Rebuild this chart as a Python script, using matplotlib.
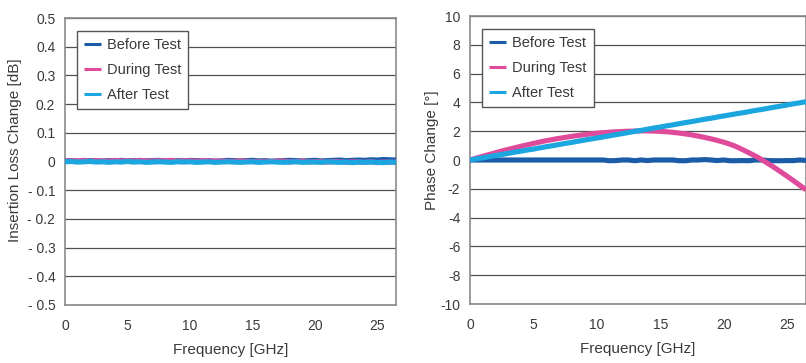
import numpy as np
import matplotlib
matplotlib.use('Agg')
import matplotlib.pyplot as plt

plt.rcParams['font.family'] = ['Liberation Sans', 'DejaVu Sans']

F_MAX = 26.5

# Insertion loss change [dB], sampled every 0.5 GHz from 0 to 26.5 GHz
il_before = [0.002, 0.003, 0.001, 0.002, 0.003, 0.002, 0.001, 0.003, 0.002, 0.004,
             0.002, 0.003, 0.001, 0.002, 0.003, 0.004, 0.002, 0.001, 0.003, 0.002,
             0.004, 0.003, 0.002, 0.003, 0.001, 0.002, 0.004, 0.003, 0.002, 0.003,
             0.004, 0.002, 0.003, 0.001, 0.002, 0.003, 0.004, 0.003, 0.002, 0.003,
             0.004, 0.002, 0.003, 0.004, 0.005, 0.003, 0.004, 0.005, 0.004, 0.006,
             0.005, 0.007, 0.006, 0.005]
il_during = [0.001, 0.003, 0.002, 0.004, 0.001, 0.003, 0.002, 0.001, 0.004, 0.002,
             0.003, 0.001, 0.004, 0.002, 0.001, 0.003, 0.002, 0.004, 0.001, 0.002,
             0.003, 0.001, 0.002, 0.003, 0.001, 0.002, 0.001, 0.000, 0.002, 0.001,
             0.000, -0.001, 0.001, 0.000, 0.002, 0.001, -0.001, 0.000, 0.001, -0.002,
             0.000, -0.001, -0.002, 0.000, -0.001, -0.003, -0.001, -0.002, -0.003, -0.001,
             -0.004, -0.002, -0.003, -0.002]
il_after = [-0.001, 0.000, -0.002, -0.001, 0.000, -0.002, -0.001, -0.003, -0.001, -0.002,
            0.000, -0.002, -0.001, -0.003, -0.002, -0.001, -0.002, -0.003, -0.001, -0.002,
            -0.001, -0.003, -0.002, -0.001, -0.003, -0.002, -0.001, -0.002, -0.003, -0.002,
            -0.001, -0.003, -0.002, -0.001, -0.002, -0.003, -0.002, -0.001, -0.003, -0.002,
            -0.002, -0.003, -0.001, -0.002, -0.003, -0.002, -0.004, -0.002, -0.003, -0.002,
            -0.003, -0.004, -0.002, -0.003]

# Phase change [deg], sampled every 0.5 GHz from 0 to 26.5 GHz
ph_before = [0.0] * 22 + [-0.05, -0.04, 0.0, 0.0, -0.05, 0.0, -0.04, 0.0, 0.0, 0.0,
                          0.0, -0.05, -0.05, 0.0, 0.0, 0.03, 0.0, -0.04, 0.0, -0.05,
                          -0.05, -0.04, -0.05, 0.0, 0.0, -0.04, -0.05, -0.05, -0.04, -0.04,
                          0.0, -0.03]
ph_during = [0.0, 0.13, 0.26, 0.38, 0.5, 0.62, 0.73, 0.84, 0.95, 1.05,
             1.15, 1.25, 1.34, 1.42, 1.5, 1.57, 1.64, 1.7, 1.76, 1.81,
             1.86, 1.9, 1.93, 1.96, 1.98, 2.0, 2.01, 2.02, 2.02, 2.01,
             1.99, 1.96, 1.92, 1.87, 1.81, 1.74, 1.66, 1.57, 1.47, 1.36,
             1.24, 1.1, 0.93, 0.72, 0.5, 0.28, 0.03, -0.24, -0.52, -0.82,
             -1.12, -1.43, -1.75, -2.07]
ph_after = [0.0, 0.08, 0.15, 0.23, 0.31, 0.38, 0.46, 0.54, 0.61, 0.69,
            0.76, 0.84, 0.92, 0.99, 1.07, 1.15, 1.22, 1.30, 1.38, 1.45,
            1.53, 1.60, 1.68, 1.76, 1.83, 1.91, 1.99, 2.06, 2.14, 2.22,
            2.29, 2.37, 2.44, 2.52, 2.60, 2.67, 2.75, 2.83, 2.90, 2.98,
            3.06, 3.13, 3.21, 3.28, 3.36, 3.44, 3.51, 3.59, 3.67, 3.74,
            3.82, 3.90, 3.97, 4.05]

x_ticks = [0, 5, 10, 15, 20, 25]
il_ticks = [0.5, 0.4, 0.3, 0.2, 0.1, 0, -0.1, -0.2, -0.3, -0.4, -0.5]
il_labels = ['0.5', '0.4', '0.3', '0.2', '0.1', '0', '- 0.1', '- 0.2', '- 0.3', '- 0.4', '- 0.5']
ph_ticks = [10, 8, 6, 4, 2, 0, -2, -4, -6, -8, -10]

SERIES = [("Before Test", "#1b5ca8"), ("During Test", "#e04a9b"), ("After Test", "#1ba6e0")]
TEXT = '#3a3a3a'


def freq(vals):
    return np.linspace(0, F_MAX, len(vals))


fig = plt.figure(figsize=(8.06, 3.63), dpi=100)
W, H = 806, 363
ax1 = fig.add_axes([65 / W, 1 - 305 / H, 331 / W, 287 / H])
ax2 = fig.add_axes([470 / W, 1 - 304 / H, 336 / W, 288 / H])

# (axes, series, y range, ticks, tick labels, y label, label x in px)
panels = [
    (ax1, [il_before, il_during, il_after], (-0.5, 0.5), il_ticks, il_labels,
     "Insertion Loss Change [dB]", 22),
    (ax2, [ph_before, ph_during, ph_after], (-10, 10), ph_ticks,
     [str(t) for t in ph_ticks], "Phase Change [°]", 439),
]

for ax, data, ylim, ticks, labels, ylabel, lx in panels:
    for (name, color), vals in zip(SERIES, data):
        ax.plot(freq(vals), vals, color=color, lw=3.7, label=name,
                solid_capstyle='butt', zorder=3)
    ax.set_xlim(0, F_MAX)
    ax.set_ylim(*ylim)
    ax.set_xticks(x_ticks)
    ax.set_yticks(ticks)
    ax.set_yticklabels(labels)
    ax.yaxis.grid(True, color='#505050', lw=0.9)
    ax.set_axisbelow(True)
    ax.tick_params(length=0, labelsize=10, colors=TEXT)
    ax.tick_params(axis='y', pad=7)
    ax.tick_params(axis='x', pad=10)
    for sp in ax.spines.values():
        sp.set_color('#8a8a8a')
        sp.set_linewidth(1.2)
    ax.set_xlabel("Frequency [GHz]", fontsize=11, color=TEXT, labelpad=7)
    ax.set_ylabel(ylabel, fontsize=11, color=TEXT)

    # place y label (pixel position -> axes coords), centred a bit above middle
    pos = ax.get_position()
    ax.yaxis.set_label_coords((lx - pos.x0 * W) / (pos.width * W),
                              ((H - 150) - pos.y0 * H) / (pos.height * H))

    leg = ax.legend(loc='upper left', bbox_to_anchor=(0.036, 0.955), borderaxespad=0,
                    fancybox=False, framealpha=1, edgecolor='#555555', fontsize=10.5,
                    handlelength=1.15, handletextpad=0.4, labelspacing=0.75,
                    borderpad=0.5)
    leg.get_frame().set_linewidth(1.0)
    for line in leg.get_lines():
        line.set_linewidth(2.2)
    for t in leg.get_texts():
        t.set_color(TEXT)

fig.savefig("out.png", dpi=100)
